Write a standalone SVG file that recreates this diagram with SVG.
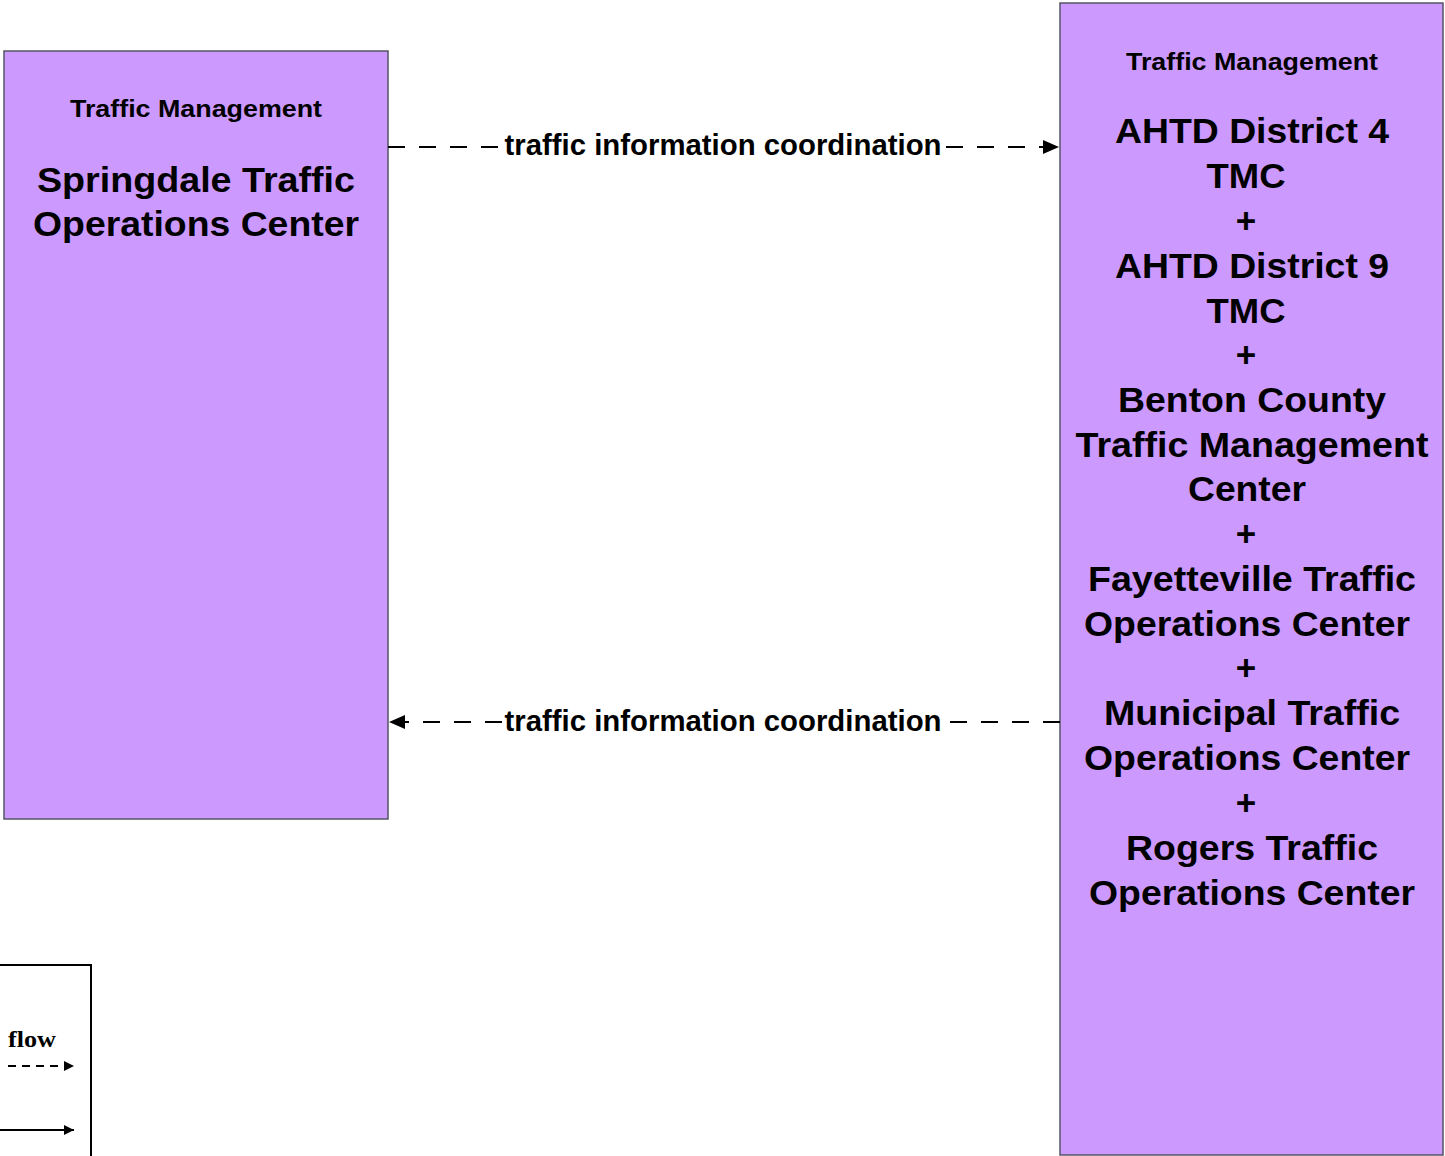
<svg xmlns="http://www.w3.org/2000/svg" width="1445" height="1156" viewBox="0 0 1445 1156">
<style>
.box{fill:#CC99FF;stroke:#555566;stroke-width:1.5}
.t{font-family:"Liberation Sans",Arial,sans-serif;font-weight:bold;fill:#000;text-anchor:middle}
.small{font-size:23px}
.big{font-size:35px}
.lbl{font-family:"Liberation Sans",Arial,sans-serif;font-weight:bold;font-size:29px;fill:#000;text-anchor:middle}
.flow{fill:none;stroke:#000;stroke-width:2;stroke-dasharray:17 14}
</style>
<defs>
<marker id="ah" viewBox="0 0 10 10" refX="10" refY="5" markerWidth="10" markerHeight="10" markerUnits="userSpaceOnUse" orient="auto">
<path d="M0,0 L10,5 L0,10 z" fill="#000"/>
</marker>
<marker id="ahBig" viewBox="0 0 16 16" refX="16" refY="8" markerWidth="16" markerHeight="16" markerUnits="userSpaceOnUse" orient="auto">
<path d="M0,1 L16,8 L0,15 z" fill="#000"/>
</marker>
</defs>
<rect width="1445" height="1156" fill="#fff"/>

<g id="node-springdale">
<rect class="box" x="4" y="51" width="384" height="768"/>
<text class="t small" x="196" y="117" textLength="252" lengthAdjust="spacingAndGlyphs">Traffic Management</text>
<text class="t big" x="196" y="192" textLength="318" lengthAdjust="spacingAndGlyphs">Springdale Traffic</text>
<text class="t big" x="196" y="236" textLength="326" lengthAdjust="spacingAndGlyphs">Operations Center</text>
</g>

<g id="node-regional">
<rect class="box" x="1060" y="3" width="383" height="1152"/>
<text class="t small" x="1252" y="70" textLength="252" lengthAdjust="spacingAndGlyphs">Traffic Management</text>
<text class="t big" x="1252" y="143" textLength="274" lengthAdjust="spacingAndGlyphs">AHTD District 4</text>
<text class="t big" x="1246" y="188" textLength="79" lengthAdjust="spacingAndGlyphs">TMC</text>
<text class="t big" x="1246" y="233">+</text>
<text class="t big" x="1252" y="278" textLength="274" lengthAdjust="spacingAndGlyphs">AHTD District 9</text>
<text class="t big" x="1246" y="323" textLength="79" lengthAdjust="spacingAndGlyphs">TMC</text>
<text class="t big" x="1246" y="367">+</text>
<text class="t big" x="1252" y="412" textLength="268" lengthAdjust="spacingAndGlyphs">Benton County</text>
<text class="t big" x="1252" y="457" textLength="353" lengthAdjust="spacingAndGlyphs">Traffic Management</text>
<text class="t big" x="1247" y="501" textLength="118" lengthAdjust="spacingAndGlyphs">Center</text>
<text class="t big" x="1246" y="546">+</text>
<text class="t big" x="1252" y="591" textLength="328" lengthAdjust="spacingAndGlyphs">Fayetteville Traffic</text>
<text class="t big" x="1247" y="636" textLength="326" lengthAdjust="spacingAndGlyphs">Operations Center</text>
<text class="t big" x="1246" y="680">+</text>
<text class="t big" x="1252" y="725" textLength="296" lengthAdjust="spacingAndGlyphs">Municipal Traffic</text>
<text class="t big" x="1247" y="770" textLength="326" lengthAdjust="spacingAndGlyphs">Operations Center</text>
<text class="t big" x="1246" y="815">+</text>
<text class="t big" x="1252" y="860" textLength="252" lengthAdjust="spacingAndGlyphs">Rogers Traffic</text>
<text class="t big" x="1252" y="905" textLength="326" lengthAdjust="spacingAndGlyphs">Operations Center</text>
</g>

<g id="connectors">
<path class="flow" d="M388,147 H1059" marker-end="url(#ahBig)"/>
<rect x="505" y="132" width="435" height="30" fill="#fff"/>
<text class="lbl" x="723" y="155" textLength="437" lengthAdjust="spacingAndGlyphs">traffic information coordination</text>
<path class="flow" d="M1060,722 H389" marker-end="url(#ahBig)"/>
<rect x="505" y="707" width="435" height="30" fill="#fff"/>
<text class="lbl" x="723" y="731" textLength="437" lengthAdjust="spacingAndGlyphs">traffic information coordination</text>
</g>

<g id="legend">
<rect x="-2" y="965" width="93" height="200" fill="none" stroke="#000" stroke-width="2"/>
<text x="8" y="1047" font-family="'Liberation Serif','Times New Roman',serif" font-weight="bold" font-size="24" textLength="48" lengthAdjust="spacingAndGlyphs">flow</text>
<path d="M8,1066 H74" fill="none" stroke="#000" stroke-width="2" stroke-dasharray="8 6" marker-end="url(#ah)"/>
<path d="M0,1130 H74" fill="none" stroke="#000" stroke-width="2" marker-end="url(#ah)"/>
</g>
</svg>
